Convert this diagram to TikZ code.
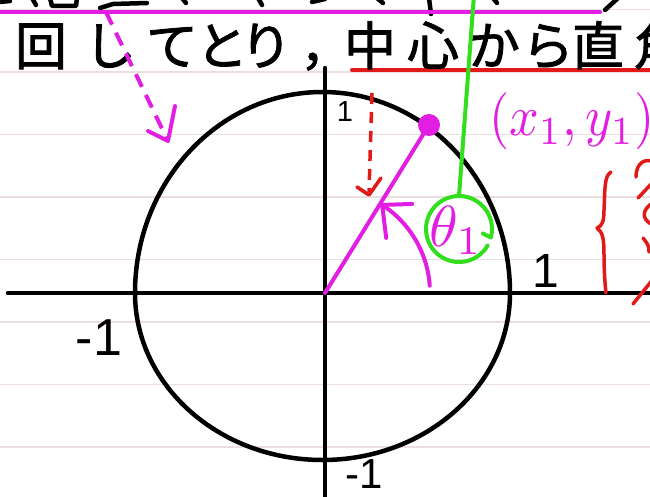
\documentclass[tikz,border=0pt]{standalone}
\usepackage{graphicx}
\usepackage{fontspec}
\newfontfamily\cjk[FakeBold=1.6]{Noto Sans CJK JP}
\newfontfamily\digits{Liberation Sans}
\usetikzlibrary{calc}
\definecolor{mag}{RGB}{226,30,226}
\definecolor{pen}{RGB}{225,25,25}
\definecolor{grn}{RGB}{50,222,30}
\definecolor{rulec}{RGB}{236,222,222}
\begin{document}
\begin{tikzpicture}[x=1pt,y=-1pt,
  ink/.style={line width=4.5pt,line cap=round,line join=round},
  magline/.style={mag,line width=4pt,line cap=round,line join=round},
  redline/.style={pen,line width=3.5pt,line cap=round,line join=round},
  grnline/.style={grn,line width=4pt,line cap=round,line join=round},
  lbl/.style={inner sep=0pt,font=\digits\fontsize{#1}{#1}\selectfont},
  jpchar/.style={anchor=base,inner sep=0pt,font=\cjk\fontsize{52}{52}\selectfont}]
\useasboundingbox (0,0) rectangle (650,497);
\fill[white] (0,0) rectangle (650,497);
% ruled paper
\foreach \y in {9.5,72,134.5,197,259.5,322,384.5,447}
  \draw[rulec,line width=1.2pt] (0,\y) -- (650,\y);
% fragments of the clipped line above
\draw[ink] (0,2) -- (10,1);
\draw[ink] (32,-2) -- (36,5);
\draw[ink] (50,-2) -- (52,6) -- (76,6) -- (77,-2);
\draw[ink] (100,8) -- (113,4) -- (147,3);
\draw[ink] (182,-2) -- (186,3);
\draw[ink] (258,-2) -- (262,5);
\draw[ink] (312,2) -- (325,-1);
\draw[ink] (377,-2) -- (383,3);
\draw[ink] (429,-2) -- (431,14);
\draw[ink] (493,-2) -- (497,3);
\draw[ink] (605,10) -- (618,-2);
% magenta underline and red underline
\draw[magline] (-5,12) -- (600,12);
\draw[redline,line width=4pt] (352,70) -- (655,70);
% Japanese text line (hand-written spacing)
\foreach \ch/\cx [count=\i] in {回/41,し/110,て/172,と/222,り/266,，/326,中/370,心/433,か/494,ら/548,直/598,角/660}
  \node[jpchar] (jp\i) at (\cx,65) {\ch};
% axes
\coordinate (O) at (325,293);
\coordinate (xl) at (8,293);
\coordinate (xr) at (660,293);
\coordinate (yt) at (325,68);
\coordinate (yb) at (325,505);
\draw[ink] (xl) -- (xr);
\draw[ink] (yt) -- (yb);
% hand-drawn circle
\draw[ink] (510,293) arc[start angle=0,end angle=-180,x radius=187.5,y radius=201]
               arc[start angle=180,end angle=0,x radius=187.5,y radius=167];
% axis labels
\node[lbl=29] (l1) at (345,112) {1};
\node[lbl=48] (r1) at (546,271) {1};
\node[lbl=52] (m1) at (99,338) {-1};
\node[lbl=42] (b1) at (364,474) {-1};
% magenta dashed arrow from the top line
\coordinate (ma0) at (106,12);
\coordinate (ma1) at (167,139);
\draw[magline,line cap=butt,dash pattern=on 14pt off 9pt] (ma0) -- (ma1);
\draw[magline] (148,131) -- (168,141) -- (175,106);
% red dashed arrow
\coordinate (ra0) at (372,93);
\coordinate (ra1) at (369,192);
\draw[redline,line cap=butt,dash pattern=on 11pt off 8pt] (ra0) -- (ra1);
\draw[redline] (357,187) -- (369,195) -- (381,178);
% radius to the point
\node[circle,fill=mag,minimum size=22pt,inner sep=0pt] (P) at (429,125) {};
\draw[magline] (O) -- (P.center);
\node[anchor=base west,inner sep=0pt,text=mag] (pt) at (489,136) {\scalebox{5.2}[5.7]{$(x_1,y_1)$}};
% angle arc with arrow
\draw[magline] ($(O)+(-4:105)$) arc[start angle=-4,end angle=-57,radius=105] coordinate (tip);
\draw[magline] ($(tip)+(30,-1)$) -- (tip) -- ($(tip)+(4,33)$);
% theta label
\node[anchor=base,inner sep=0pt,text=mag] (th) at (456,246) {\scalebox{5.8}{$\theta_1$}};
% green line and loop
\coordinate (g0) at (474,-5);
\coordinate (g1) at (459,196);
\draw[grnline] (g0) -- (g1);
\draw[grnline] (487.6,245.5) arc[start angle=30,end angle=375,radius=33] -- ++(-8,-4);
% red brace
\draw[redline] (611,172) .. controls (604,176) and (605,190) .. (604,210)
  .. controls (604,222) and (602,226) .. (597,228)
  .. controls (603,232) and (604,240) .. (604,255)
  .. controls (604,270) and (605,285) .. (606,293);
% red fragments at the right edge
\draw[redline] (636,177) .. controls (636,162) and (646,158) .. (654,162);
\draw[redline] (638,198) -- (654,181);
\draw[redline] (651,204) .. controls (643,210) and (641,218) .. (651,224);
\draw[redline] (643,238) .. controls (646,242) and (650,246) .. (649,252);
\draw[redline] (633,304) -- (654,278);
\end{tikzpicture}
\end{document}
